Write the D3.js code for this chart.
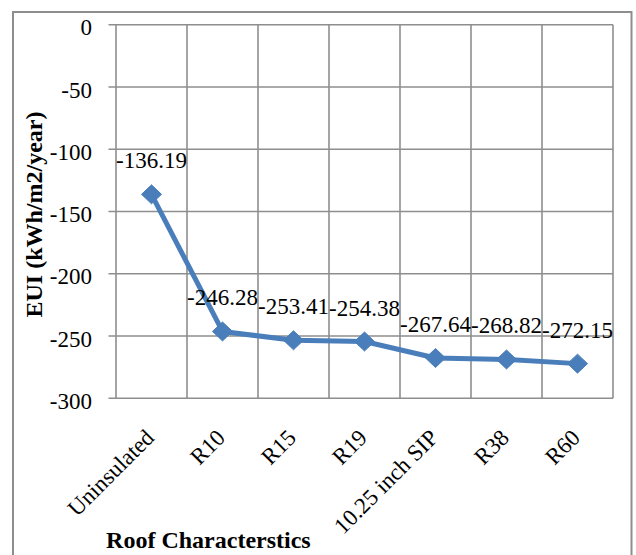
<!DOCTYPE html>
<html>
<head>
<meta charset="utf-8">
<script src="https://cdn.jsdelivr.net/npm/d3@7"></script>
<style>
  html, body { margin: 0; padding: 0; background: #fff; }
  svg { display: block; }
  text { font-family: "Liberation Serif", "Times New Roman", serif; fill: #000; }
</style>
</head>
<body>
<svg id="chart" width="636" height="555"></svg>
<script>
const categories = ["Uninsulated", "R10", "R15", "R19", "10.25 inch SIP", "R38", "R60"];
const values = [-136.19, -246.28, -253.41, -254.38, -267.64, -268.82, -272.15];
const valueLabels = ["-136.19", "-246.28", "-253.41", "-254.38", "-267.64", "-268.82", "-272.15"];
const yTicks = [0, -50, -100, -150, -200, -250, -300];
const yTickLabels = ["0", "-50", "-100", "-150", "-200", "-250", "-300"];
const yTitle = "EUI (kWh/m2/year)";
const xTitle = "Roof Characterstics";

const svg = d3.select("#chart");
const gridColor = "#8e8e8e";
const lineColor = "#4A7EBB";

const plot = { left: 116, right: 613, top: 24.8, bottom: 398.3 };

const x = d3.scaleBand().domain(categories).range([plot.left, plot.right]).padding(0);
const y = d3.scaleLinear().domain([-300, 0]).range([plot.bottom, plot.top]);

// outer border
svg.append("rect")
  .attr("x", 13).attr("y", 12)
  .attr("width", 631.5 - 13).attr("height", 600)
  .attr("fill", "#fff").attr("stroke", gridColor).attr("stroke-width", 2);

// horizontal gridlines + ticks (extend left as tick marks)
svg.append("g").selectAll("line").data(yTicks).join("line")
  .attr("x1", plot.left - 7.5).attr("x2", plot.right)
  .attr("y1", d => y(d)).attr("y2", d => y(d))
  .attr("stroke", gridColor).attr("stroke-width", 1.6);

// vertical gridlines at band boundaries
const bounds = categories.map(c => x(c)).concat([x(categories[categories.length - 1]) + x.bandwidth()]);
svg.append("g").selectAll("line").data(bounds).join("line")
  .attr("x1", d => d).attr("x2", d => d)
  .attr("y1", plot.top).attr("y2", plot.bottom)
  .attr("stroke", gridColor).attr("stroke-width", 1.6);

// y tick labels
svg.append("g").selectAll("text").data(yTicks).join("text")
  .attr("x", 92).attr("y", d => y(d) + 10.5)
  .attr("text-anchor", "end")
  .attr("font-size", 23)
  .text((d, i) => yTickLabels[i]);

// x tick labels rotated
svg.append("g").selectAll("text").data(categories).join("text")
  .attr("transform", d => `translate(${x(d) + x.bandwidth() / 2 + 4},439) rotate(-45)`)
  .attr("text-anchor", "end")
  .attr("font-size", 23)
  .text(d => d);

// line
const cx = d => x(d) + x.bandwidth() / 2;
const pts = categories.map((c, i) => [cx(c), y(values[i])]);
svg.append("path")
  .attr("d", d3.line()(pts))
  .attr("fill", "none")
  .attr("stroke", lineColor)
  .attr("stroke-width", 5)
  .attr("stroke-linejoin", "round");

// diamond markers
svg.append("g").selectAll("path").data(pts).join("path")
  .attr("transform", d => `translate(${d[0]},${d[1]})`)
  .attr("d", "M0,-9.5L10,0L0,9.5L-10,0Z")
  .attr("fill", lineColor)
  .attr("stroke", lineColor)
  .attr("stroke-width", 1);

// data labels
svg.append("g").selectAll("text").data(pts).join("text")
  .attr("x", d => d[0]).attr("y", d => d[1] - 26)
  .attr("text-anchor", "middle")
  .attr("font-size", 23)
  .text((d, i) => valueLabels[i]);

// axis titles
svg.append("text")
  .attr("transform", "translate(42,214.5) rotate(-90)")
  .attr("text-anchor", "middle")
  .attr("font-size", 24)
  .attr("font-weight", "bold")
  .text(yTitle);

svg.append("text")
  .attr("x", 208.4).attr("y", 548)
  .attr("text-anchor", "middle")
  .attr("font-size", 24)
  .attr("font-weight", "bold")
  .text(xTitle);
</script>
</body>
</html>
